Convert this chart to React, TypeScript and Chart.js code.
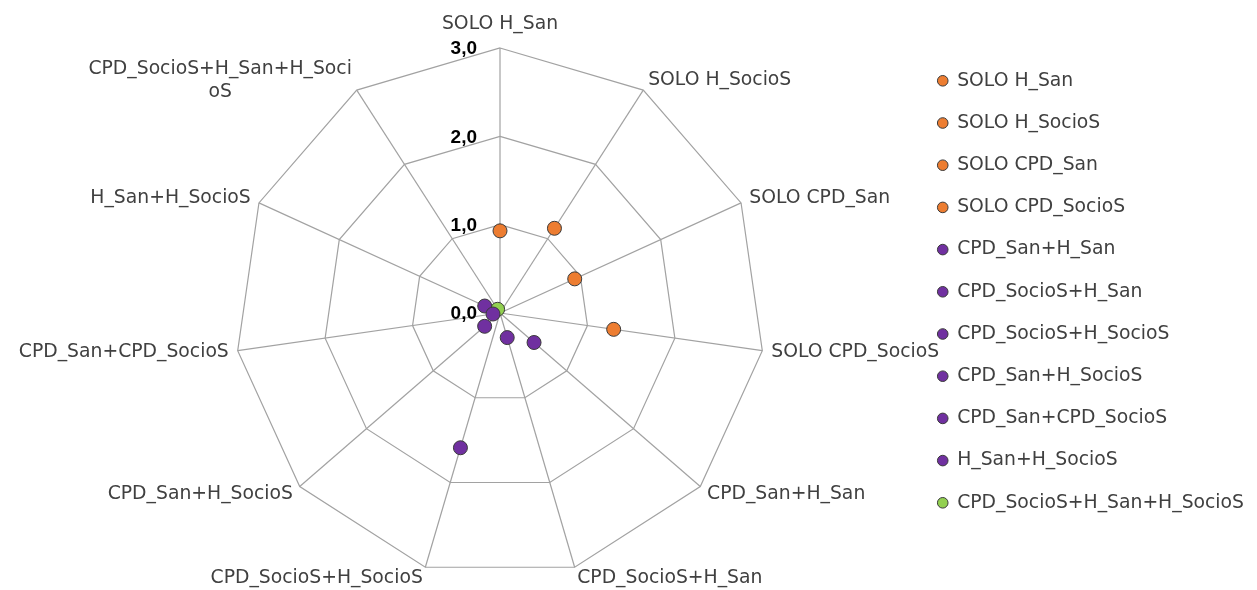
import React, { useEffect, useRef } from "react";
import { Chart, registerables } from "chart.js";

Chart.register(...registerables);

// Axis (category) labels around the radar
const AXIS_LABELS: (string | string[])[] = [
  "SOLO H_San",
  "SOLO H_SocioS",
  "SOLO CPD_San",
  "SOLO CPD_SocioS",
  "CPD_San+H_San",
  "CPD_SocioS+H_San",
  "CPD_SocioS+H_SocioS",
  "CPD_San+H_SocioS",
  "CPD_San+CPD_SocioS",
  "H_San+H_SocioS",
  ["CPD_SocioS+H_San+H_Soci", "oS"],
];

// Series names (legend)
const SERIES_NAMES = [
  "SOLO H_San",
  "SOLO H_SocioS",
  "SOLO CPD_San",
  "SOLO CPD_SocioS",
  "CPD_San+H_San",
  "CPD_SocioS+H_San",
  "CPD_SocioS+H_SocioS",
  "CPD_San+H_SocioS",
  "CPD_San+CPD_SocioS",
  "H_San+H_SocioS",
  "CPD_SocioS+H_San+H_SocioS",
];

// One value per series, sitting on its own axis
const SERIES_VALUES = [0.93, 1.14, 0.93, 1.3, 0.51, 0.29, 1.59, 0.23, 0.08, 0.19, 0.05];

// Series colour groups
const SERIES_COLORS = [
  "#ED7D31", "#ED7D31", "#ED7D31", "#ED7D31",
  "#7030A0", "#7030A0", "#7030A0", "#7030A0", "#7030A0", "#7030A0",
  "#92D050",
];

// Radial tick labels
const TICK_VALUES = [0, 1, 2, 3];
const TICK_LABELS = ["0,0", "1,0", "2,0", "3,0"];

const FONT = "'DejaVu Sans', sans-serif";
const FONT_SIZE = 18.8;
const TEXT_COLOR = "#404040";
const GRID_COLOR = "#A2A2A2";

const tickLabelPlugin = {
  id: "leftTickLabels",
  afterDatasetsDraw(chart: any) {
    const scale = chart.scales.r;
    const ctx = chart.ctx;
    ctx.save();
    ctx.font = "bold 19px 'Liberation Sans', Arial, sans-serif";
    ctx.fillStyle = "#000000";
    ctx.textAlign = "right";
    ctx.textBaseline = "middle";
    TICK_VALUES.forEach((v, i) => {
      const d = scale.getDistanceFromCenterForValue(v);
      ctx.fillText(TICK_LABELS[i], scale.xCenter - 23, scale.yCenter - d + 1);
    });
    ctx.restore();
  },
};

// Excel-like placement of the category labels, positioned from the scale's own points
const pointLabelPlugin = {
  id: "excelPointLabels",
  afterDraw(chart: any) {
    const scale = chart.scales.r;
    const ctx = chart.ctx;
    const lh = 23;
    const padSide = 9;
    const padTop = 12;
    ctx.save();
    ctx.font = `${FONT_SIZE}px ${FONT}`;
    ctx.fillStyle = TEXT_COLOR;
    ctx.textBaseline = "middle";
    ctx.textAlign = "center";
    AXIS_LABELS.forEach((lab, i) => {
      const lines = Array.isArray(lab) ? lab : [lab];
      const a = scale.getIndexAngle(i);
      const deg = ((Math.round((a * 180) / Math.PI) % 360) + 360) % 360;
      const p = scale.getPointPosition(i, scale.drawingArea);
      const w = Math.max(...lines.map((l) => ctx.measureText(l).width));
      let cx: number;
      let midY = p.y - Math.cos(a) * (lh / 2);
      if (deg === 0 || deg === 180) {
        cx = p.x;
        midY -= Math.cos(a) * padTop;
      } else if (deg < 180) {
        cx = p.x + Math.sin(a) * padSide + w / 2;
      } else {
        cx = p.x + Math.sin(a) * padSide - w / 2;
      }
      const n = lines.length;
      lines.forEach((l, k) => ctx.fillText(l, cx, midY + (k - (n - 1) / 2) * lh));
    });
    ctx.restore();
  },
};

export default function App() {
  const ref = useRef<HTMLCanvasElement | null>(null);

  useEffect(() => {
    document.body.style.margin = "0";
    document.body.style.overflow = "hidden";
    if (!ref.current) return;
    const datasets = SERIES_NAMES.map((name, i) => ({
      label: name,
      data: AXIS_LABELS.map((_, j) => (j === i ? SERIES_VALUES[i] : null)),
      showLine: false,
      borderWidth: 0,
      borderColor: "rgba(0,0,0,0)",
      backgroundColor: SERIES_COLORS[i],
      fill: false,
      pointStyle: "circle",
      pointRadius: 7,
      pointHoverRadius: 7,
      pointBackgroundColor: SERIES_COLORS[i],
      pointBorderColor: "#3a3a3a",
      pointBorderWidth: 1,
    }));

    const chart = new Chart(ref.current, {
      type: "radar",
      data: { labels: AXIS_LABELS as any, datasets },
      options: {
        responsive: false,
        animation: false,
        layout: { padding: { top: 48, bottom: 11, left: 86, right: 3 } },
        plugins: {
          tooltip: { enabled: false },
          legend: {
            position: "right",
            align: "start",
            labels: {
              usePointStyle: true,
              boxWidth: 10,
              boxHeight: 7.5,
              padding: 23.4,
              color: TEXT_COLOR,
              font: { family: FONT, size: FONT_SIZE },
            },
          },
        },
        scales: {
          r: {
            min: 0,
            max: 3,
            ticks: { stepSize: 1, display: false },
            grid: { color: GRID_COLOR, lineWidth: 1.2 },
            angleLines: { color: GRID_COLOR, lineWidth: 1.2 },
            pointLabels: { display: false },
          },
        },
      },
      plugins: [tickLabelPlugin, pointLabelPlugin],
    });
    return () => chart.destroy();
  }, []);

  return (
    <div style={{ width: 1257, height: 590 }}>
      <canvas ref={ref} width={1257} height={590} style={{ display: "block" }} />
    </div>
  );
}
